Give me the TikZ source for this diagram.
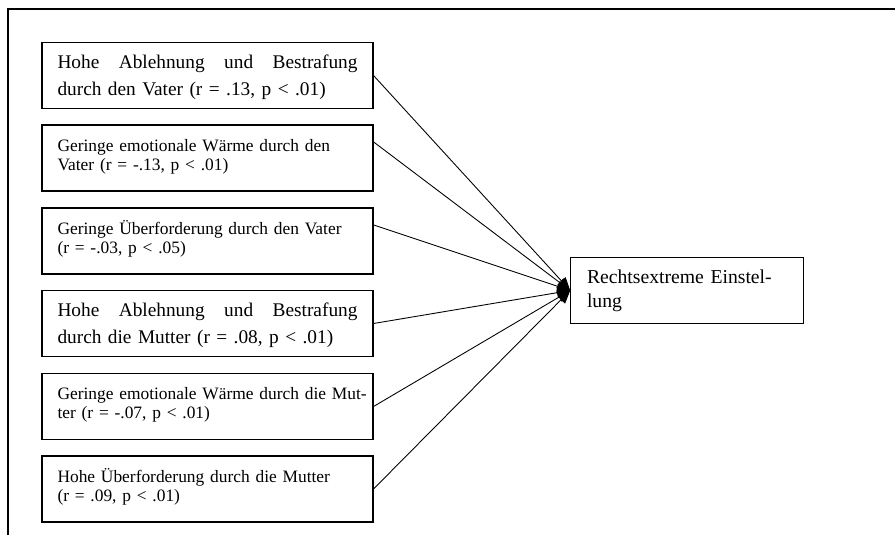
\documentclass[tikz,border=0pt]{standalone}
\usepackage{fontspec}
\setmainfont{Liberation Serif}
\usetikzlibrary{arrows.meta,calc}

\begin{document}
\begin{tikzpicture}[every node/.style={align=left},
    factor/.style={draw, line width=0.6pt, text width=6cm, inner xsep=0.31cm, inner ysep=0pt, text height=0.52cm, text depth=0.8cm},
    outcome/.style={draw, line width=0.6pt, text width=4cm, inner xsep=0.325cm, inner ysep=0pt, text height=0.52cm, text depth=0.8cm},
    arr/.style={-{Triangle[length=0.26cm, width=0.22cm]}, line width=0.5pt}]
    \useasboundingbox (0,0) rectangle (17.9,10.7);
    \draw[line width=0.7pt] (0.16,0) -- (0.16,10.52) -- (17.9,10.52);

    \node[factor, font=\fontsize{11}{15.4}\selectfont] (vablehn) at (4.15,9.19) {Hohe\hfill Ablehnung\hfill und\hfill Bestrafung\\durch den Vater (r = .13, p < .01)};
    \node[factor, font=\fontsize{9.9}{11}\selectfont] (vwaerme) at (4.15,7.54) {Geringe emotionale Wärme durch den\\Vater (r = -.13, p < .01)};
    \node[factor, font=\fontsize{9.9}{11}\selectfont] (vueber) at (4.15,5.88) {Geringe Überforderung durch den Vater\\(r = -.03, p < .05)};
    \node[factor, font=\fontsize{11}{15.4}\selectfont] (mablehn) at (4.15,4.23) {Hohe\hfill Ablehnung\hfill und\hfill Bestrafung\\durch die Mutter (r = .08, p < .01)};
    \node[factor, font=\fontsize{9.9}{11}\selectfont] (mwaerme) at (4.15,2.57) {\mbox{Geringe emotionale Wärme durch die Mut-}\\ter (r = -.07, p < .01)};
    \node[factor, font=\fontsize{9.9}{11}\selectfont] (mueber) at (4.15,0.92) {Hohe Überforderung durch die Mutter\\(r = .09, p < .01)};

    \node[outcome, font=\fontsize{11.2}{13.5}\selectfont] (rechts) at (13.74,4.89) {Rechtsextreme Einstel-\\lung};

    \draw[arr] (vablehn.east) -- (rechts.west);
    \draw[arr] ($(vwaerme.north east)!0.26!(vwaerme.south east)$) -- (rechts.west);
    \draw[arr] ($(vueber.north east)!0.26!(vueber.south east)$) -- (rechts.west);
    \draw[arr] (mablehn.east) -- (rechts.west);
    \draw[arr] (mwaerme.east) -- (rechts.west);
    \draw[arr] (mueber.east) -- (rechts.west);
\end{tikzpicture}
\end{document}
